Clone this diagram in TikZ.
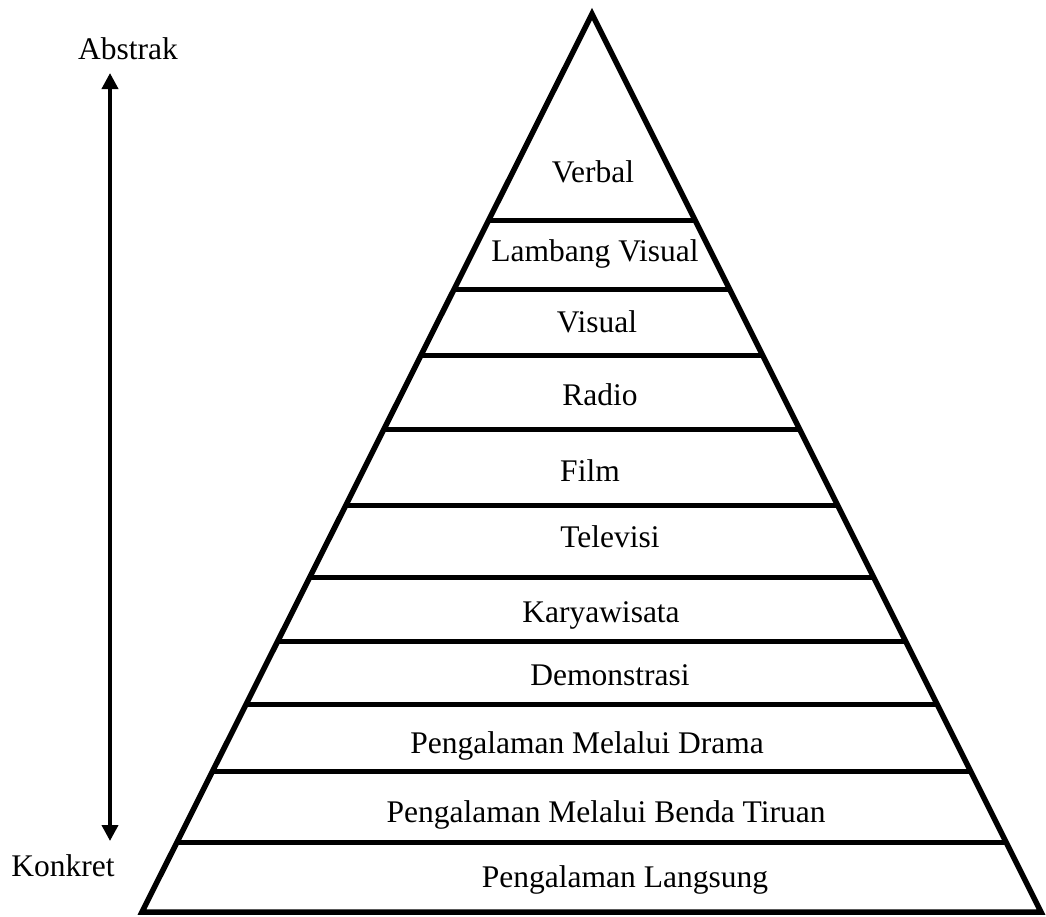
\documentclass[tikz,border=0pt]{standalone}
\usepackage{fontspec}
\setmainfont{Liberation Serif}
\usetikzlibrary{arrows.meta}
\begin{document}
\begin{tikzpicture}[x=1pt,y=-1pt,
  edge/.style={line width=5.5pt,line join=miter},
  rung/.style={line width=5pt},
  lbl/.style={anchor=base,inner sep=0pt,font=\fontsize{31.5}{38}\selectfont},
  axis/.style={line width=3.8pt,
    {Triangle[length=16pt,width=16pt]}-{Triangle[length=16pt,width=16pt]}}]
\useasboundingbox (0,0) rectangle (1046,916);
% corners of the pyramid
\coordinate (A) at (592,14);
\coordinate (L) at (142,912);
\coordinate (R) at (1041,912);
% level separators, trimmed to the pyramid
\begin{scope}
  \clip (A) -- (L) -- (R) -- cycle;
  \foreach \y in {220,289,355,429,505,577,641,704,771,842}
    \draw[rung] (0,\y) -- (1046,\y);
\end{scope}
\draw[edge] (A) -- (L) -- (R) -- cycle;
% level names
\node[lbl] (verbal) at (593,182) {Verbal};
\node[lbl] (lambang) at (595,261) {Lambang Visual};
\node[lbl] (visual) at (597,332) {Visual};
\node[lbl] (radio) at (600,405) {Radio};
\node[lbl] (film) at (590,481) {Film};
\node[lbl] (tv) at (610,547) {Televisi};
\node[lbl] (karya) at (601,622) {Karyawisata};
\node[lbl] (demo) at (610,685) {Demonstrasi};
\node[lbl] (drama) at (587,753) {Pengalaman Melalui Drama};
\node[lbl] (tiruan) at (606,822) {Pengalaman Melalui Benda Tiruan};
\node[lbl] (langsung) at (625,887) {Pengalaman Langsung};
% abstract/concrete axis
\node[lbl] (abs) at (128,59) {Abstrak};
\node[lbl] (kon) at (63,876) {Konkret};
\coordinate (top) at (110,73);
\coordinate (bot) at (110,841);
\draw[axis] (bot) -- (top);
\end{tikzpicture}
\end{document}
